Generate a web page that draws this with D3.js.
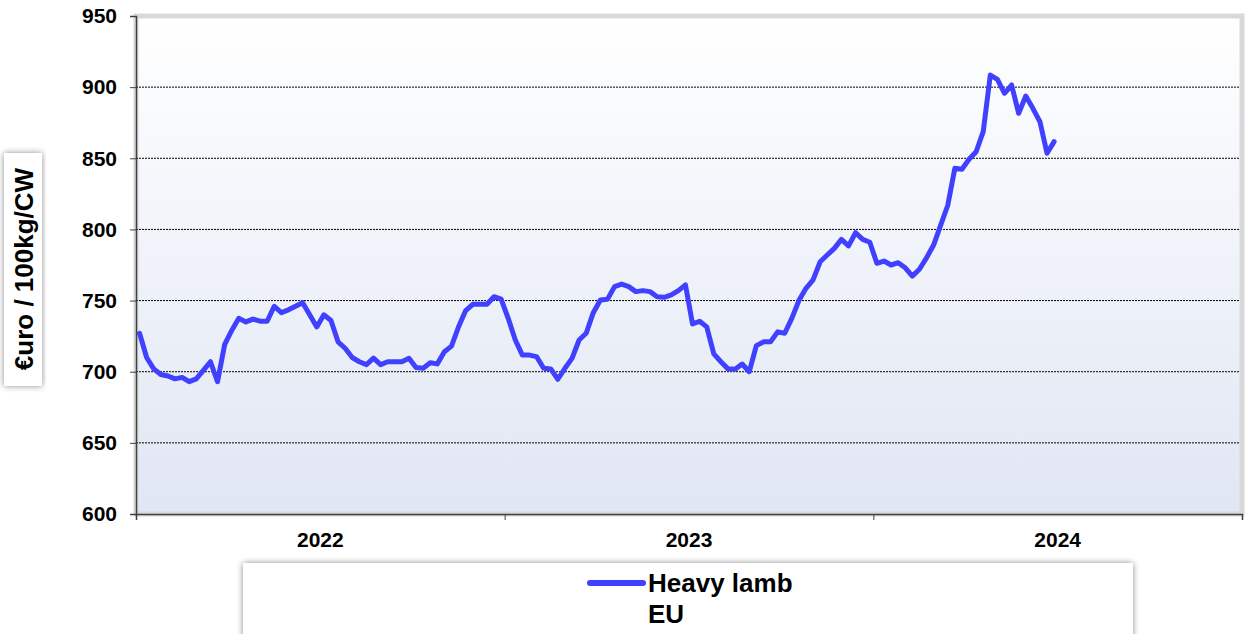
<!DOCTYPE html>
<html>
<head>
<meta charset="utf-8">
<script src="https://cdn.jsdelivr.net/npm/d3@7/dist/d3.min.js"></script>
<style>
  html, body { margin: 0; padding: 0; background: #ffffff; }
  svg { display: block; font-family: "Liberation Sans", Arial, sans-serif; }
</style>
</head>
<body>
<svg id="chart" width="1245" height="634"></svg>
<script>
// ---- Data ----
const years = ["2022", "2023", "2024"];
const weeksPerYear = 52;
const yTicks = [600, 650, 700, 750, 800, 850, 900, 950];
const seriesName = "Heavy lamb";
const seriesSub = "EU";
const yLabel = "€uro / 100kg/CW";
// weekly prices, starting at week 1 of 2022
const heavyLamb = [
  727, 710, 702, 698, 697, 695, 696, 693, 695, 701,
  707, 693, 719, 729, 737.5, 735, 737, 735.5, 735.5, 746,
  741.5, 743.5, 746, 748.5, 740, 731.5, 740, 736, 721, 716.5,
  710, 707, 705, 709.5, 705, 707, 707, 707, 709.5, 703,
  702.5, 706.3, 705.5, 714, 718, 731.6, 743, 747.4, 747.4, 747.4,
  752.7, 751, 737.5, 722.3, 711.7, 711.7, 710.6, 702.4, 702, 694.7,
  702.4, 709.4, 722.3, 727, 741.5, 750.4, 751, 759.8, 761.6, 759.8,
  756.3, 757, 756.3, 752.7, 752.3, 754, 757, 761, 733.5, 735.5,
  731.5, 712.5, 707, 702, 701.7, 705.4, 700, 718.3, 721, 721,
  728, 727, 737.5, 750, 758.6, 764.5, 777.3, 782, 786.7, 793,
  788.4, 797.7, 793, 791, 776.2, 777.8, 775, 776.6, 773, 767.2,
  772, 780, 789, 803, 817, 843, 842.3, 849.3, 854.6, 868.7,
  908.5, 905.5, 895.7, 901.5, 881.6, 893.8, 885.1, 875.7, 853.5, 861.7
];

// ---- Layout ----
const svg = d3.select("#chart");
const plot = { left: 136, right: 1242, top: 16, bottom: 514 };

const x = d3.scaleLinear()
  .domain([0, years.length * weeksPerYear])
  .range([plot.left, plot.right]);
const y = d3.scaleLinear()
  .domain([600, 950])
  .range([plot.bottom, plot.top]);

const defs = svg.append("defs");
const grad = defs.append("linearGradient")
  .attr("id", "bg").attr("x1", 0).attr("y1", 0).attr("x2", 0).attr("y2", 1);
grad.append("stop").attr("offset", "0%").attr("stop-color", "#ffffff");
grad.append("stop").attr("offset", "100%").attr("stop-color", "#e0e6f3");

const shadow = defs.append("filter").attr("id", "shadow")
  .attr("x", "-10%").attr("y", "-10%").attr("width", "120%").attr("height", "120%");
shadow.append("feDropShadow").attr("dx", 0).attr("dy", 0)
  .attr("stdDeviation", 3).attr("flood-color", "#000").attr("flood-opacity", 0.45);

// plot background
svg.append("rect")
  .attr("x", plot.left).attr("y", plot.top)
  .attr("width", plot.right - plot.left).attr("height", plot.bottom - plot.top)
  .attr("fill", "url(#bg)")
  .attr("stroke", "#d9d9d9").attr("stroke-width", 5);

// gridlines
svg.append("g").selectAll("line")
  .data(yTicks.filter(v => v > 600 && v < 950))
  .join("line")
  .attr("x1", plot.left).attr("x2", plot.right - 2)
  .attr("y1", d => y(d)).attr("y2", d => y(d))
  .attr("stroke", "#000").attr("stroke-width", 1)
  .attr("stroke-dasharray", "2,1");

// y axis
const yAxis = svg.append("g")
  .attr("transform", `translate(${plot.left},0)`)
  .call(d3.axisLeft(y).tickValues(yTicks).tickSize(6).tickPadding(13).tickFormat(d3.format("d")));
yAxis.select(".domain").attr("stroke", "#404040").attr("stroke-width", 1.5);
yAxis.selectAll(".tick line").attr("stroke", "#404040");
yAxis.selectAll(".tick text")
  .attr("font-size", 21).attr("font-weight", "bold").attr("fill", "#000")
  .attr("font-family", "'Liberation Sans', Arial, sans-serif");

// x axis
const xAxis = svg.append("g")
  .attr("transform", `translate(0,${plot.bottom})`)
  .call(d3.axisBottom(x)
    .tickValues(d3.range(0, years.length + 1).map(i => i * weeksPerYear))
    .tickSize(6).tickFormat(""));
xAxis.select(".domain").attr("stroke", "#404040").attr("stroke-width", 1.5);
xAxis.selectAll(".tick line").attr("stroke", "#404040");

svg.append("g").selectAll("text")
  .data(years)
  .join("text")
  .attr("x", (d, i) => x(i * weeksPerYear + weeksPerYear / 2))
  .attr("y", 547)
  .attr("text-anchor", "middle")
  .attr("font-size", 21).attr("font-weight", "bold")
  .text(d => d);

// line
const line = d3.line()
  .x((d, i) => x(i + 0.5))
  .y(d => y(d));
svg.append("path")
  .datum(heavyLamb)
  .attr("d", line)
  .attr("fill", "none")
  .attr("stroke", "#4040ff")
  .attr("stroke-width", 5)
  .attr("stroke-linejoin", "round")
  .attr("stroke-linecap", "round");

// y label box
svg.append("rect")
  .attr("x", 4).attr("y", 153).attr("width", 38).attr("height", 233)
  .attr("fill", "#fff").attr("filter", "url(#shadow)");
svg.append("text")
  .attr("transform", "translate(33,269) rotate(-90)")
  .attr("text-anchor", "middle")
  .attr("font-size", 26).attr("font-weight", "bold")
  .text(yLabel);

// legend
svg.append("rect")
  .attr("x", 243).attr("y", 563).attr("width", 890).attr("height", 90)
  .attr("fill", "#fff").attr("filter", "url(#shadow)");
svg.append("line")
  .attr("x1", 590).attr("x2", 643).attr("y1", 583).attr("y2", 583)
  .attr("stroke", "#4040ff").attr("stroke-width", 6).attr("stroke-linecap", "round");
svg.append("text")
  .attr("x", 648).attr("y", 592)
  .attr("font-size", 26).attr("font-weight", "bold")
  .text(seriesName);
svg.append("text")
  .attr("x", 648).attr("y", 623)
  .attr("font-size", 26).attr("font-weight", "bold")
  .text(seriesSub);
</script>
</body>
</html>
